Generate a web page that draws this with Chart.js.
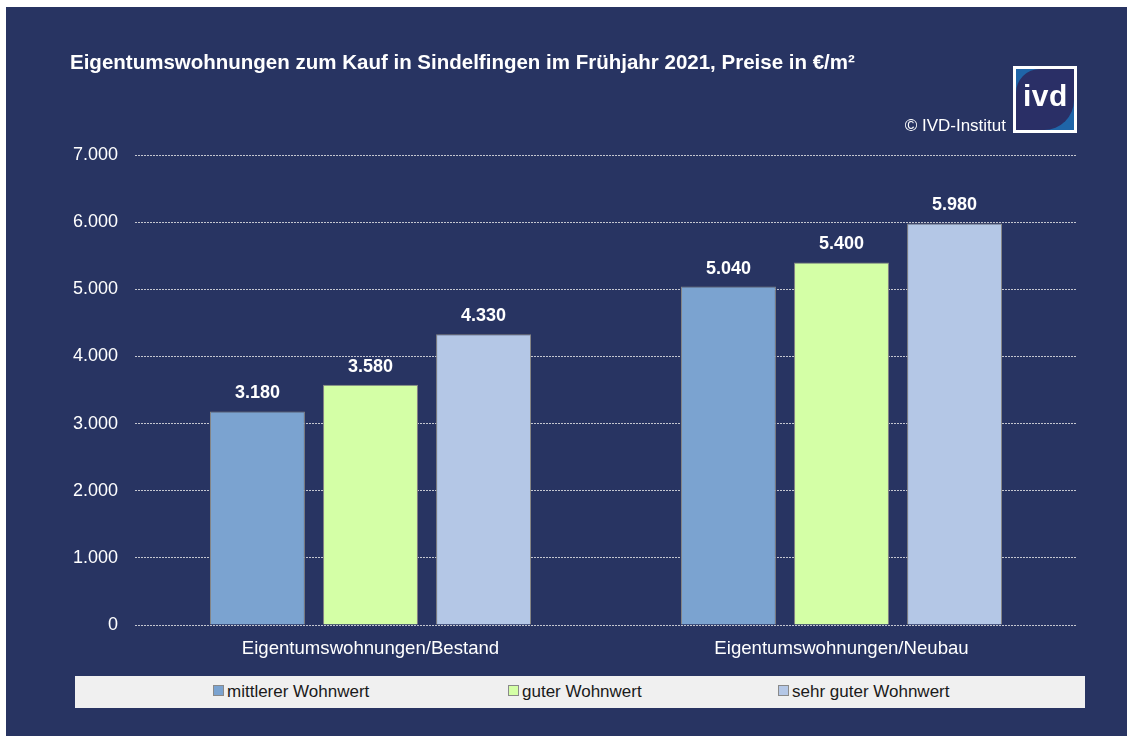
<!DOCTYPE html>
<html>
<head>
<meta charset="utf-8">
<script src="https://cdn.jsdelivr.net/npm/chart.js@4"></script>
<style>
  html, body { margin: 0; padding: 0; background: #fff; }
  body { width: 1127px; height: 736px; position: relative; overflow: hidden; font-family: "Liberation Sans", Arial, sans-serif; }
  #panel { position: absolute; left: 6px; top: 7px; width: 1121px; height: 729px; background: #283462; }
  #wrap { position: absolute; left: 0; top: 0; width: 1127px; height: 736px; }
  #title { position: absolute; left: 70px; top: 50px; color: #fff; font-weight: bold; font-size: 20.5px; white-space: nowrap; }
  #copy { position: absolute; right: 121px; top: 116px; color: #fff; font-size: 17px; white-space: nowrap; }
  #logo { position: absolute; left: 1013px; top: 66px; width: 58px; height: 61px; border: 3px solid #fff; background: #1f65a8; overflow: hidden; }
  #logo .inner { position: absolute; left: 0; top: 0; width: 58px; height: 61px; background: #2a2f66; border-radius: 24px 0 30px 0; }
  #logo .txt { position: absolute; left: 7px; top: 10px; color: #fff; font-weight: bold; font-size: 30px; letter-spacing: 0.5px; }
  #legend { position: absolute; left: 75px; top: 676px; width: 1010px; height: 32px; background: #f0f0f0; }
  .item { position: absolute; top: 6px; font-size: 17px; color: #1a1a1a; white-space: nowrap; }
  .item span.sw { display: inline-block; width: 9px; height: 9px; border: 1px solid #8a8a8a; margin-right: 3px; vertical-align: 1px; }
</style>
</head>
<body>
<div id="panel"></div>
<div id="wrap"><canvas id="chart" width="1127" height="736"></canvas></div>
<div id="title">Eigentumswohnungen zum Kauf in Sindelfingen im Frühjahr 2021, Preise in €/m²</div>
<div id="copy">© IVD-Institut</div>
<div id="logo"><div class="inner"></div><div class="txt">ivd</div></div>
<div id="legend"></div>
<script>
const categories = ['Eigentumswohnungen/Bestand', 'Eigentumswohnungen/Neubau'];
const seriesNames = ['mittlerer Wohnwert', 'guter Wohnwert', 'sehr guter Wohnwert'];
const mittlerer = [3180, 5040];
const guter = [3580, 5400];
const sehrGuter = [4330, 5980];
const seriesColors = ['#7ba3d0', '#d4ffa6', '#b4c7e6'];
const yTicks = [0, 1000, 2000, 3000, 4000, 5000, 6000, 7000];

const fmt = v => String(Math.round(v)).replace(/\B(?=(\d{3})+(?!\d))/g, '.');

// legend in the grey strip
const legendPos = [138, 433, 703];
const legendEl = document.getElementById('legend');
seriesNames.forEach((name, i) => {
    const d = document.createElement('div');
    d.className = 'item';
    d.style.left = legendPos[i] + 'px';
    d.innerHTML = '<span class="sw" style="background:' + seriesColors[i] + '"></span>' + name;
    legendEl.appendChild(d);
});

const valueLabels = {
    id: 'valueLabels',
    afterDatasetsDraw(chart) {
        const ctx = chart.ctx;
        ctx.save();
        ctx.fillStyle = '#fff';
        ctx.font = 'bold 18px "Liberation Sans", Arial, sans-serif';
        ctx.textAlign = 'center';
        ctx.textBaseline = 'bottom';
        chart.data.datasets.forEach((ds, i) => {
            chart.getDatasetMeta(i).data.forEach((bar, j) => {
                ctx.fillText(fmt(ds.data[j]), bar.x, bar.y - 9);
            });
        });
        ctx.restore();
    }
};

const data = [mittlerer, guter, sehrGuter];

new Chart(document.getElementById('chart').getContext('2d'), {
    type: 'bar',
    data: {
        labels: categories,
        datasets: seriesNames.map((name, i) => ({
            label: name,
            data: data[i],
            backgroundColor: seriesColors[i],
            borderColor: '#858585',
            borderWidth: 1,
            categoryPercentage: 0.72,
            barPercentage: 0.84
        }))
    },
    options: {
        responsive: false,
        animation: false,
        layout: { padding: { left: 55, right: 50, top: 155, bottom: 71 } },
        plugins: {
            legend: { display: false },
            title: { display: false },
            tooltip: { enabled: false }
        },
        scales: {
            x: {
                grid: { display: false },
                border: { display: false },
                ticks: {
                    color: '#fff',
                    padding: 5,
                    font: { family: '"Liberation Sans", Arial, sans-serif', size: 18.6 }
                },
                afterFit: s => { s.height = 40; }
            },
            y: {
                min: 0,
                max: 7000,
                afterBuildTicks: s => { s.ticks = yTicks.map(v => ({ value: v })); },
                grid: { color: '#c4c6d0', lineWidth: 1, drawTicks: false },
                border: { display: false, dash: [2, 1] },
                ticks: {
                    color: '#fff',
                    padding: 17,
                    font: { family: '"Liberation Sans", Arial, sans-serif', size: 18 },
                    callback: v => fmt(v)
                },
                afterFit: s => { s.width = 80; }
            }
        }
    },
    plugins: [valueLabels]
});
</script>
</body>
</html>
